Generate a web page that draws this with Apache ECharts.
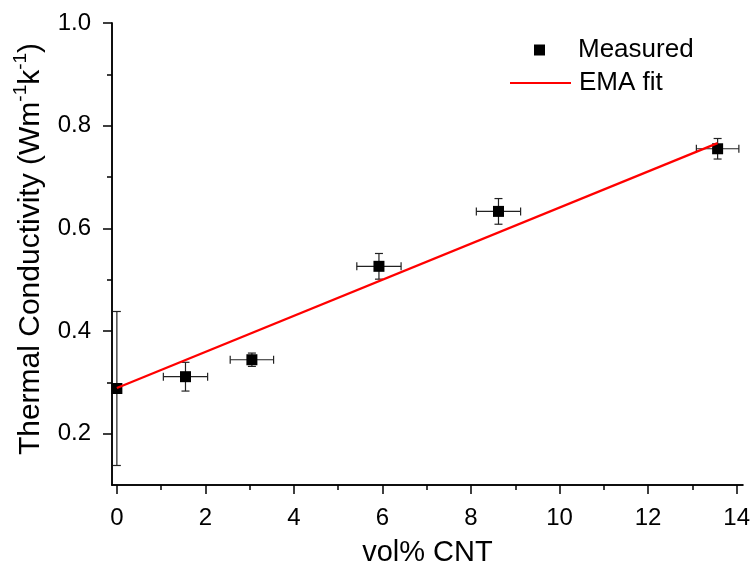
<!DOCTYPE html>
<html><head><meta charset="utf-8">
<script src="https://cdn.jsdelivr.net/npm/echarts@6/dist/echarts.min.js"></script>
<style>html,body{margin:0;padding:0;background:#fff}#c{width:753px;height:574px}</style>
</head><body><div id="c"></div>
<script>
const volCNT = [0, 1.55, 3.05, 5.92, 8.62, 13.57];
const conductivity = [0.288, 0.311, 0.344, 0.526, 0.633, 0.755];
const xErr = [0, 0.5, 0.49, 0.5, 0.5, 0.48];
const yErr = [0.15, 0.028, 0.013, 0.025, 0.025, 0.02];
const fitX = [0, 13.57];
const fitY = [0.289, 0.766];
const xMajorTicks = [0, 2, 4, 6, 8, 10, 12, 14];
const xMinorTicks = [1, 3, 5, 7, 9, 11, 13];
const yMajorTicks = [0.2, 0.4, 0.6, 0.8, 1.0];
const yMinorTicks = [0.3, 0.5, 0.7, 0.9];

const FONT = 'Liberation Sans, Arial, sans-serif';
const chart = echarts.init(document.getElementById('c'));
const measured = volCNT.map((x, i) => [x, conductivity[i]]);
const errData = volCNT.map((x, i) => [x, conductivity[i], xErr[i], yErr[i]]);
const fitData = fitX.map((x, i) => [x, fitY[i]]);

const XMIN = -0.11, XMAX = 14.14, YMIN = 0.1, YMAX = 1.0;
const axisLine = {show: true, onZero: false, lineStyle: {color: '#000', width: 1.5}};

function xAxisDef(ticks, len, labels, extra) {
  return Object.assign({
    type: 'value', min: XMIN, max: XMAX, position: 'bottom',
    axisLine: axisLine, splitLine: {show: false},
    axisTick: {show: true, length: len, inside: false, customValues: ticks, lineStyle: {color: '#000', width: 1.5}},
    axisLabel: labels ? {show: true, customValues: ticks, fontSize: 24, color: '#000', fontFamily: FONT, margin: 21} : {show: false}
  }, extra || {});
}
function yAxisDef(ticks, len, labels, extra) {
  return Object.assign({
    type: 'value', min: YMIN, max: YMAX, position: 'left',
    axisLine: axisLine, splitLine: {show: false},
    axisTick: {show: true, length: len, inside: false, customValues: ticks, lineStyle: {color: '#000', width: 1.5}},
    axisLabel: labels ? {show: true, customValues: ticks, fontSize: 24, color: '#000', fontFamily: FONT, margin: 21,
      formatter: v => v.toFixed(1)} : {show: false}
  }, extra || {});
}

chart.setOption({
  animation: false,
  backgroundColor: '#fff',
  grid: {left: 112, right: 8, top: 23, bottom: 89, containLabel: false},
  xAxis: [
    xAxisDef(xMajorTicks, 9, true, {name: 'vol% CNT', nameLocation: 'middle', nameGap: 53,
      nameTextStyle: {fontSize: 29, color: '#000', fontFamily: FONT}}),
    xAxisDef(xMinorTicks, 5, false)
  ],
  yAxis: [
    yAxisDef(yMajorTicks, 9, true, {
      name: '{a|Thermal Conductivity (Wm}{s|-1}{a|k}{s|-1}{a|)}',
      nameLocation: 'middle', nameGap: 66, nameRotate: 90,
      nameTextStyle: {color: '#000', fontFamily: FONT, padding: [0, 0, 0, 10], rich: {
        a: {fontSize: 30, color: '#000', fontFamily: FONT, lineHeight: 35, verticalAlign: 'bottom'},
        s: {fontSize: 19, color: '#000', fontFamily: FONT, lineHeight: 35, verticalAlign: 'top', padding: [0, 0, 14, 0]}
      }}
    }),
    yAxisDef(yMinorTicks, 5, false)
  ],
  legend: [
    {data: [{name: 'Measured', icon: 'rect'}], left: 534, top: 35, padding: 0, itemWidth: 11, itemHeight: 11, itemGap: 0,
      textStyle: {fontSize: 26, lineHeight: 30, color: '#000', fontFamily: FONT, padding: [0, 0, 0, 28]}},
    {data: [{name: 'EMA fit'}], left: 509, top: 68, padding: 0, itemWidth: 61, itemHeight: 2, itemGap: 0,
      textStyle: {fontSize: 26, lineHeight: 30, color: '#000', fontFamily: FONT, padding: [0, 0, 0, 3]}}
  ],
  series: [
    {
      name: 'errors', type: 'custom', xAxisIndex: 0, yAxisIndex: 0, z: 2, clip: false,
      data: errData,
      renderItem: function (params, api) {
        const x = api.value(0), y = api.value(1), ex = api.value(2), ey = api.value(3);
        const c = api.coord([x, y]);
        const top = api.coord([x, y + ey]), bot = api.coord([x, y - ey]);
        const lft = api.coord([x - ex, y]), rgt = api.coord([x + ex, y]);
        const st = {stroke: '#222', lineWidth: 1.2};
        const cap = 4;
        const children = [];
        if (ey > 0) {
          children.push({type: 'line', shape: {x1: c[0], y1: top[1], x2: c[0], y2: bot[1]}, style: st});
          children.push({type: 'line', shape: {x1: c[0] - cap, y1: top[1], x2: c[0] + cap, y2: top[1]}, style: st});
          children.push({type: 'line', shape: {x1: c[0] - cap, y1: bot[1], x2: c[0] + cap, y2: bot[1]}, style: st});
        }
        if (ex > 0) {
          children.push({type: 'line', shape: {x1: lft[0], y1: c[1], x2: rgt[0], y2: c[1]}, style: st});
          children.push({type: 'line', shape: {x1: lft[0], y1: c[1] - cap, x2: lft[0], y2: c[1] + cap}, style: st});
          children.push({type: 'line', shape: {x1: rgt[0], y1: c[1] - cap, x2: rgt[0], y2: c[1] + cap}, style: st});
        }
        return {type: 'group', children: children};
      }
    },
    {
      name: 'Measured', type: 'scatter', xAxisIndex: 0, yAxisIndex: 0, z: 3,
      symbol: 'rect', symbolSize: 11, itemStyle: {color: '#000', opacity: 1},
      data: measured, clip: false
    },
    {
      name: 'EMA fit', type: 'line', xAxisIndex: 0, yAxisIndex: 0, z: 4,
      showSymbol: false, symbol: 'none', lineStyle: {color: '#f00', width: 2.2}, itemStyle: {color: '#f00'},
      data: fitData
    }
  ]
});
</script></body></html>
